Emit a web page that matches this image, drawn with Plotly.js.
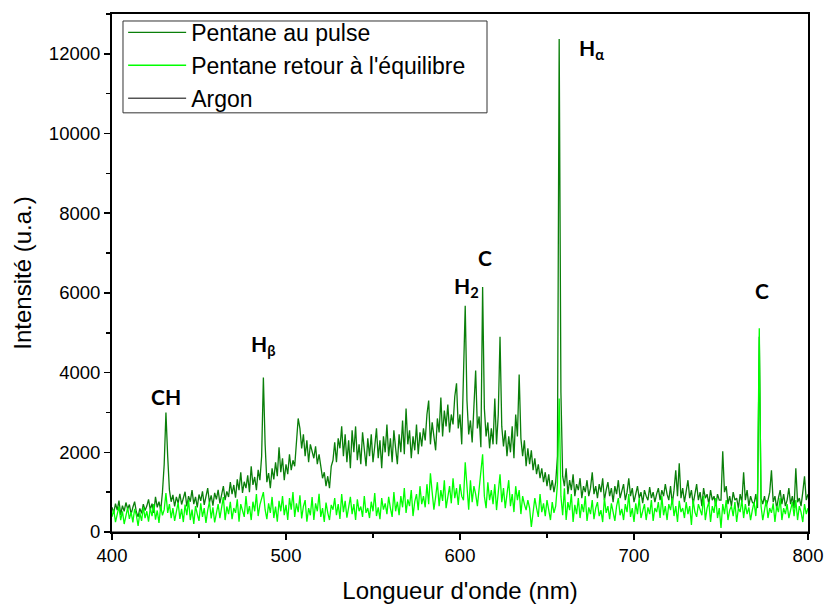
<!DOCTYPE html>
<html>
<head>
<meta charset="utf-8">
<script src="https://cdn.plot.ly/plotly-3.0.1.min.js"></script>
<style>html,body{margin:0;padding:0;background:#fff;}#chart{width:825px;height:605px;}</style>
</head>
<body>
<div id="chart"></div>
<script>
// Wavelength grid: 400 … 800 nm, one value per nm
const wavelengthStart = 400;
const wavelengthStep = 1;

// Pentane au pulse (10 values per row)
const pentanePulse = [
  620, 480, 710, 550, 790, 430, 660, 520, 740, 580,      // 400
  690, 450, 620, 760, 500, 380, 590, 470, 700, 540,      // 410
  650, 820, 560, 710, 480, 880, 620, 760, 540, 1000,     // 420
  1700, 3000, 1900, 1050, 760, 930, 640, 880, 720, 960,  // 430
  690, 850, 1010, 640, 900, 760, 1050, 700, 880, 620,    // 440
  940, 780, 1020, 680, 860, 1100, 740, 920, 660, 980,    // 450
  820, 1060, 720, 900, 1150, 800, 1020, 880, 1250, 950,  // 460
  1180, 860, 1320, 1050, 1500, 980, 1260, 1100, 1420, 1000, // 470
  1650, 1180, 1380, 1050, 1560, 1300, 1900, 3875, 2200, 1250, // 480
  1480, 1100, 1600, 1320, 1750, 1400, 2125, 1500, 1850, 1300, // 490
  1700, 1450, 1950, 1550, 1800, 1650, 2400, 2850, 2600, 2100, // 500
  2450, 1900, 2300, 1750, 2200, 2000, 1850, 2150, 1700, 1950, // 510
  1600, 1350, 1500, 1150, 1400, 1100, 1650, 1800, 2250, 1750, // 520
  2350, 2100, 2650, 1900, 2450, 1750, 2300, 1600, 2550, 2000, // 530
  2650, 1800, 2200, 1700, 2500, 2050, 1650, 2350, 1900, 2450, // 540
  1750, 2150, 2600, 1850, 2300, 1600, 2400, 2000, 2700, 1900, // 550
  2350, 1750, 2550, 2100, 1700, 2450, 2000, 2800, 1950, 3100, // 560
  2200, 2550, 1850, 2400, 2050, 2700, 1950, 2500, 2150, 2600, // 570
  2300, 2950, 3300, 2200, 2750, 2400, 2050, 2850, 2500, 3375, // 580
  2400, 3050, 2650, 3200, 2500, 2950, 2700, 3400, 3733, 2600, // 590
  2950, 2200, 4375, 5675, 3300, 2450, 2800, 2250, 3150, 4050, // 600
  2600, 2900, 2125, 6150, 3100, 2400, 2750, 2100, 2600, 2200, // 610
  3350, 2200, 2950, 4900, 2650, 2150, 2550, 1900, 2400, 2000, // 620
  2650, 1850, 2950, 2400, 3950, 2350, 1900, 2300, 1650, 2100, // 630
  1700, 2050, 1550, 1850, 1450, 1700, 1350, 1600, 1250, 1500, // 640
  1150, 1450, 1050, 1300, 1000, 1250, 1900, 12375, 3500, 1400, // 650
  1150, 1600, 950, 1300, 1050, 1450, 900, 1200, 1050, 1350,  // 660
  850, 1150, 1000, 1300, 900, 1100, 1500, 950, 1150, 850,    // 670
  1200, 1000, 1350, 800, 1050, 1250, 900, 1100, 750, 1150,   // 680
  950, 1300, 850, 1050, 1200, 800, 1000, 1350, 900, 1100,    // 690
  750, 950, 1150, 850, 1000, 725, 1050, 900, 800, 1125,      // 700
  850, 1000, 750, 950, 1100, 800, 1050, 900, 1200, 950,      // 710
  800, 1150, 700, 1050, 1550, 900, 1725, 850, 1100, 750,     // 720
  1000, 1300, 850, 1050, 700, 950, 1200, 800, 1000, 650,     // 730
  1100, 850, 950, 700, 1050, 800, 900, 650, 950, 800,        // 740
  800, 2025, 1000, 1150, 700, 900, 650, 1000, 800, 850,      // 750
  600, 950, 750, 1500, 800, 1050, 650, 900, 750, 700,        // 760
  950, 600, 4900, 850, 700, 900, 650, 800, 1000, 1550,       // 770
  750, 900, 600, 850, 1050, 700, 950, 650, 800, 1100,        // 780
  700, 900, 600, 1600, 750, 850, 650, 1000, 1400, 800,       // 790
  950                                                        // 800
];

// Pentane retour à l'équilibre
const pentaneRetour = [
  380, 560, 250, 470, 640, 300, 520, 200, 450, 610,   // 400
  330, 500, 240, 580, 420, 150, 480, 280, 620, 350,   // 410
  520, 260, 600, 400, 700, 310, 540, 230, 650, 420,   // 420
  560, 975, 480, 700, 350, 600, 280, 520, 740, 330,   // 430
  580, 250, 690, 420, 800, 300, 560, 200, 650, 450,   // 440
  280, 720, 380, 600, 230, 540, 760, 340, 620, 240,   // 450
  500, 700, 350, 580, 880, 300, 640, 450, 760, 320,   // 460
  600, 480, 820, 260, 700, 540, 380, 900, 450, 650,   // 470
  300, 760, 520, 950, 400, 680, 850, 1000, 560, 320,  // 480
  720, 480, 880, 350, 640, 260, 780, 520, 900, 420,   // 490
  680, 300, 850, 560, 1000, 380, 720, 500, 920, 340,  // 500
  640, 800, 260, 600, 420, 880, 300, 720, 520, 960,   // 510
  380, 600, 250, 740, 480, 300, 680, 560, 850, 420,   // 520
  700, 330, 950, 500, 780, 360, 620, 880, 450, 700,   // 530
  300, 820, 520, 640, 380, 900, 480, 600, 350, 760,   // 540
  520, 980, 400, 620, 320, 850, 560, 720, 450, 880,   // 550
  600, 380, 1000, 520, 760, 420, 900, 620, 1100, 480, // 560
  820, 650, 1050, 400, 760, 950, 550, 1150, 700, 900, // 570
  620, 1200, 700, 1475, 1000, 560, 880, 1250, 650, 1050, // 580
  780, 1300, 600, 950, 1150, 720, 1350, 850, 1100, 680,  // 590
  1200, 900, 800, 1750, 1050, 560, 1300, 750, 1150, 950, // 600
  650, 1100, 1400, 1950, 900, 600, 1250, 800, 1050, 700, // 610
  1200, 550, 1000, 1450, 750, 1100, 600, 900, 1300, 650, // 620
  950, 500, 1150, 800, 1050, 450, 900, 700, 550, 800,    // 630
  600, 125, 450, 850, 600, 380, 950, 500, 720, 400,      // 640
  800, 550, 300, 750, 480, 650, 1200, 3350, 900, 420,    // 650
  1100, 300, 750, 550, 950, 250, 680, 450, 850, 350,     // 660
  700, 500, 900, 280, 620, 450, 800, 320, 600, 750,      // 670
  400, 550, 250, 850, 480, 650, 320, 720, 500, 280,      // 680
  650, 850, 420, 580, 300, 700, 500, 950, 380, 600,      // 690
  250, 720, 450, 850, 350, 550, 700, 300, 620, 450,      // 700
  800, 280, 600, 500, 750, 350, 900, 420, 650, 300,      // 710
  700, 550, 850, 400, 650, 250, 780, 500, 600, 350,      // 720
  750, 450, 650, 180, 800, 500, 380, 700, 550, 420,      // 730
  900, 300, 600, 750, 250, 650, 480, 850, 350, 600,      // 740
  100, 700, 450, 800, 300, 550, 650, 400, 750, 250,      // 750
  600, 500, 800, 350, 700, 450, 620, 300, 550, 750,      // 760
  400, 1000, 5115, 650, 300, 550, 800, 350, 600, 480,    // 770
  720, 250, 650, 500, 850, 300, 600, 450, 700, 350,      // 780
  550, 750, 400, 800, 300, 650, 500, 250, 700, 450,      // 790
  600                                                    // 800
];

// Argon: not visible above the baseline in the picture (lies on the x axis)
const argonWavelengths = [400, 800];
const argonValues = [0, 0];

const seriesNames = ['Pentane au pulse', "Pentane retour à l'équilibre", 'Argon'];
const peakLabels = ['CH', 'H<sub>β</sub>', 'H<sub>2</sub>', 'C', 'H<sub>α</sub>', 'C'];
const xTickLabels = ['400', '500', '600', '700', '800'];
const yTickLabels = ['0', '2000', '4000', '6000', '8000', '10000', '12000'];

const wavelengths = pentanePulse.map((_, i) => wavelengthStart + i * wavelengthStep);

const traces = [
  { x: argonWavelengths, y: argonValues, name: seriesNames[2], type: 'scatter', mode: 'lines',
    line: { color: '#000000', width: 1 }, legendrank: 3, cliponaxis: true },
  { x: wavelengths, y: pentanePulse, name: seriesNames[0], type: 'scatter', mode: 'lines',
    line: { color: '#0a7f0a', width: 1.3 }, legendrank: 1 },
  { x: wavelengths, y: pentaneRetour, name: seriesNames[1], type: 'scatter', mode: 'lines',
    line: { color: '#00ff00', width: 1.3 }, legendrank: 2 }
];

const annFont = { family: 'Lato, "Open Sans", sans-serif', size: 21, color: '#000', weight: 700 };
const annPos = [[431.2, 3400], [487.0, 4700], [603.8, 6150], [614.2, 6890], [675.6, 12130], [773.4, 6050]];
const annotations = peakLabels.map((t, i) => ({
  x: annPos[i][0], y: annPos[i][1], xref: 'x', yref: 'y', text: '<b>' + t + '</b>',
  showarrow: false, font: annFont, xanchor: 'center', yanchor: 'middle'
}));

const xTickVals = xTickLabels.map(Number);
const yTickVals = yTickLabels.map(Number);

const layout = {
  width: 825, height: 605,
  margin: { l: 112, r: 17, t: 13, b: 73 },
  paper_bgcolor: '#fff', plot_bgcolor: '#fff',
  font: { family: '"Liberation Sans", Arial, sans-serif', color: '#000' },
  showlegend: true,
  legend: {
    x: 0.016, y: 1.004, xanchor: 'left', yanchor: 'top',
    bgcolor: 'rgba(0,0,0,0)', borderwidth: 0,
    font: { size: 23, color: '#000' }, itemwidth: 58
  },
  shapes: [{
    type: 'rect', xref: 'paper', yref: 'paper', x0: 0.0158, x1: 0.5388, y0: 0.8092, y1: 0.9865,
    line: { color: '#333', width: 1 }, fillcolor: 'rgba(0,0,0,0)', layer: 'above'
  }],
  xaxis: {
    range: [400, 800], tickmode: 'array', tickvals: xTickVals, ticktext: xTickLabels,
    ticks: 'outside', ticklen: 6, tickwidth: 1.5, tickcolor: '#000',
    showline: true, linewidth: 2, linecolor: '#000', mirror: true,
    showgrid: false, zeroline: false, tickfont: { size: 18.5 },
    minor: { dtick: 50, tick0: 400, ticks: 'outside', ticklen: 4, tickwidth: 1.5, tickcolor: '#000', showgrid: false },
    title: { text: "Longueur d'onde (nm)", font: { size: 24 }, standoff: 17 }
  },
  yaxis: {
    range: [0, 13000], tickmode: 'array', tickvals: yTickVals, ticktext: yTickLabels,
    ticks: 'outside', ticklen: 6, tickwidth: 1.5, tickcolor: '#000',
    showline: true, linewidth: 2, linecolor: '#000', mirror: true,
    showgrid: false, zeroline: false, tickfont: { size: 18.5 },
    minor: { dtick: 1000, tick0: 0, ticks: 'outside', ticklen: 4, tickwidth: 1.5, tickcolor: '#000', showgrid: false },
    title: { text: 'Intensité (u.a.)', font: { size: 24 }, standoff: 10 }
  },
  xaxis2: {
    overlaying: 'x', side: 'top', anchor: 'y2', range: [400, 800],
    tickmode: 'linear', tick0: 400, dtick: 50, ticks: 'inside', ticklen: 4, tickwidth: 1.2, tickcolor: '#000',
    showticklabels: false, showgrid: false, zeroline: false, showline: false
  },
  yaxis2: {
    overlaying: 'y', side: 'right', anchor: 'x2', range: [0, 13000],
    tickmode: 'linear', tick0: 0, dtick: 1000, ticks: 'inside', ticklen: 4, tickwidth: 1.2, tickcolor: '#000',
    showticklabels: false, showgrid: false, zeroline: false, showline: false
  },
  annotations: annotations
};

Plotly.newPlot('chart', traces, layout, { displayModeBar: false, staticPlot: true });
</script>
</body>
</html>
